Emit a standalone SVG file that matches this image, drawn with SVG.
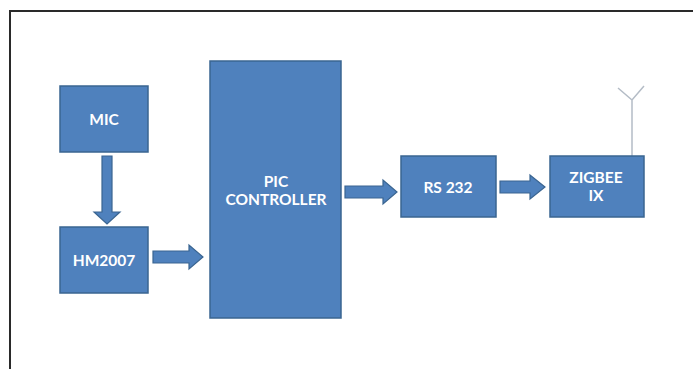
<svg xmlns="http://www.w3.org/2000/svg" width="693" height="369" viewBox="0 0 693 369">
<style>
.box{fill:#4F81BD;stroke:#3A6591;stroke-width:1.5}
.arr{fill:#4F81BD;stroke:#3A6591;stroke-width:1.2;stroke-linejoin:miter}
.t{fill:#ffffff;font-family:Lato,"Open Sans","Liberation Sans",sans-serif;font-size:15.5px;font-weight:bold;text-anchor:middle}
</style>
<rect width="693" height="369" fill="#ffffff"/>
<path d="M10,369 V11 H693" fill="none" stroke="#2a2a2a" stroke-width="2"/>
<g id="connectors">
<path class="arr" d="M102,156 H112 V212 H120 L107,224 L94,212 H102 Z"/>
<path class="arr" d="M153,251 H189 V245 L203,257 L189,269 V263 H153 Z"/>
<path class="arr" d="M345,186 H383 V180 L397,192 L383,204 V198 H345 Z"/>
<path class="arr" d="M500,181 H530 V175 L545,187 L530,199 V193 H500 Z"/>
<path d="M632,156 V100 M618,88 L632,100 L644,86" fill="none" stroke="#b4bcc6" stroke-width="1.5"/>
</g>
<g id="mic"><rect class="box" x="60" y="86" width="88" height="66"/><text class="t" x="104" y="125">MIC</text></g>
<g id="hm2007"><rect class="box" x="60" y="227" width="88" height="66"/><text class="t" x="104" y="266">HM2007</text></g>
<g id="pic"><rect class="box" x="210" y="61" width="131" height="257"/><text class="t" x="276" y="187">PIC</text><text class="t" x="276" y="205">CONTROLLER</text></g>
<g id="rs232"><rect class="box" x="401" y="156" width="95" height="61"/><text class="t" x="448" y="193">RS 232</text></g>
<g id="zigbee"><rect class="box" x="550" y="156" width="94" height="61"/><text class="t" x="596" y="183">ZIGBEE</text><text class="t" x="596" y="201">IX</text></g>
</svg>
